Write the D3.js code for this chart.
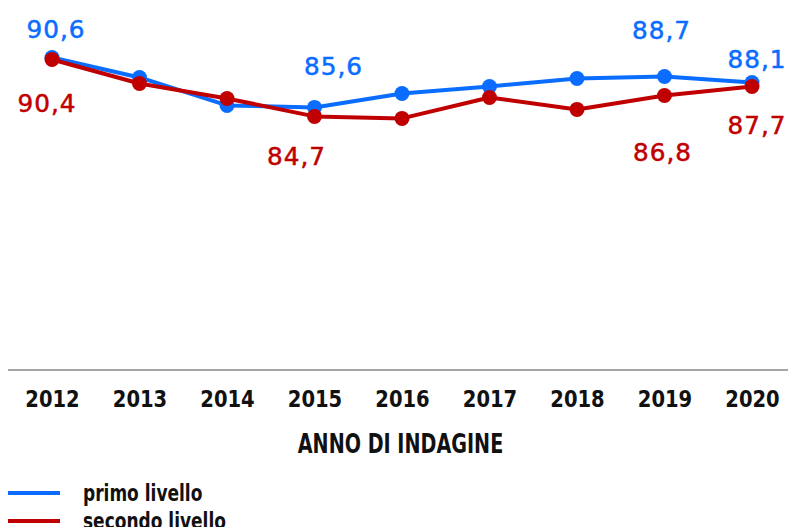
<!DOCTYPE html>
<html>
<head>
<meta charset="utf-8">
<script src="https://cdn.jsdelivr.net/npm/d3@7"></script>
<style>
  html, body { margin: 0; padding: 0; background: #fff; }
  svg { display: block; }
</style>
</head>
<body>
<svg id="chart" width="788" height="527"></svg>
<script>
// ---- data ----
const years = ["2012","2013","2014","2015","2016","2017","2018","2019","2020"];
const primoLivello   = [90.6, 88.6, 85.8, 85.6, 87.0, 87.7, 88.5, 88.7, 88.1];
const secondoLivello = [90.4, 88.0, 86.5, 84.7, 84.5, 86.6, 85.4, 86.8, 87.7];
const seriesNames = ["primo livello", "secondo livello"];
const labelledYears = ["2012", "2015", "2019", "2020"];
const axisTitle = "ANNO DI INDAGINE";

// ---- drawing ----
const svg = d3.select("#chart");
const colors = ["#0a6dff", "#c00000"];
const FONT = "'DejaVu Sans', Verdana, sans-serif";
const fmt = v => d3.format(".1f")(v).replace(".", ",");

const x = d3.scalePoint().domain(years).range([52, 752]);
const y = d3.scaleLinear().domain([59.3, 90.6]).range([370, 57.5]);

// baseline axis
const xAxis = d3.axisBottom(x).tickSize(0);
const ax = svg.append("g").attr("transform", "translate(0,370)").call(xAxis);
ax.select(".domain").remove();
ax.insert("line", ":first-child").attr("x1", 8).attr("x2", 788).attr("y1", 0).attr("y2", 0)
  .attr("stroke", "#a6a6a6").attr("stroke-width", 2);
ax.selectAll(".tick text")
  .attr("fill", "#111").attr("font-family", FONT)
  .attr("font-weight", "bold").attr("font-size", 23)
  .attr("y", 37).attr("dy", 0)
  .attr("transform", "scale(0.85,1)");

svg.append("g").attr("transform", "translate(400.5,453) scale(0.7,1)")
  .append("text").attr("x", 0).attr("y", 0).attr("text-anchor", "middle")
  .attr("font-family", FONT).attr("font-weight", "bold")
  .attr("font-size", 27.4).attr("fill", "#111").text(axisTitle);

const seriesData = [primoLivello, secondoLivello];
const line = d3.line().x((d, i) => x(years[i])).y(d => y(d));

seriesData.forEach((vals, s) => {
  const g = svg.append("g");
  g.append("path").datum(vals).attr("d", line).attr("fill", "none")
    .attr("stroke", colors[s]).attr("stroke-width", 4).attr("stroke-linejoin", "round");
  g.selectAll("circle").data(vals).join("circle")
    .attr("cx", (d, i) => x(years[i])).attr("cy", d => y(d)).attr("r", 7.5)
    .attr("fill", colors[s]);
});

// value labels (offsets relative to points)
const labelOffsets = [
  { "2012": [4, -20], "2015": [19, -32], "2019": [-3, -37], "2020": [5, -14] },
  { "2012": [-5, 53], "2015": [-18, 49], "2019": [-2, 66], "2020": [5, 48] }
];
seriesData.forEach((vals, s) => {
  labelledYears.forEach(yr => {
    const i = years.indexOf(yr);
    const off = labelOffsets[s][yr];
    svg.append("text")
      .attr("x", x(yr) + off[0]).attr("y", y(vals[i]) + off[1])
      .attr("text-anchor", "middle")
      .attr("font-family", FONT)
      .attr("font-size", 24.7).attr("letter-spacing", 1)
      .attr("fill", colors[s]).attr("stroke", colors[s]).attr("stroke-width", 0.5)
      .text(fmt(vals[i]));
  });
});

// legend
const lg = svg.append("g");
seriesNames.forEach((n, s) => {
  const yy = 493 + s * 28;
  lg.append("line").attr("x1", 8).attr("x2", 60).attr("y1", yy).attr("y2", yy)
    .attr("stroke", colors[s]).attr("stroke-width", 4);
  lg.append("g").attr("transform", `translate(83,${yy + 8}) scale(0.76,1)`)
    .append("text").attr("x", 0).attr("y", 0)
    .attr("font-family", FONT).attr("font-weight", "bold")
    .attr("font-size", 22.4).attr("fill", "#111").text(n);
});
</script>
</body>
</html>
